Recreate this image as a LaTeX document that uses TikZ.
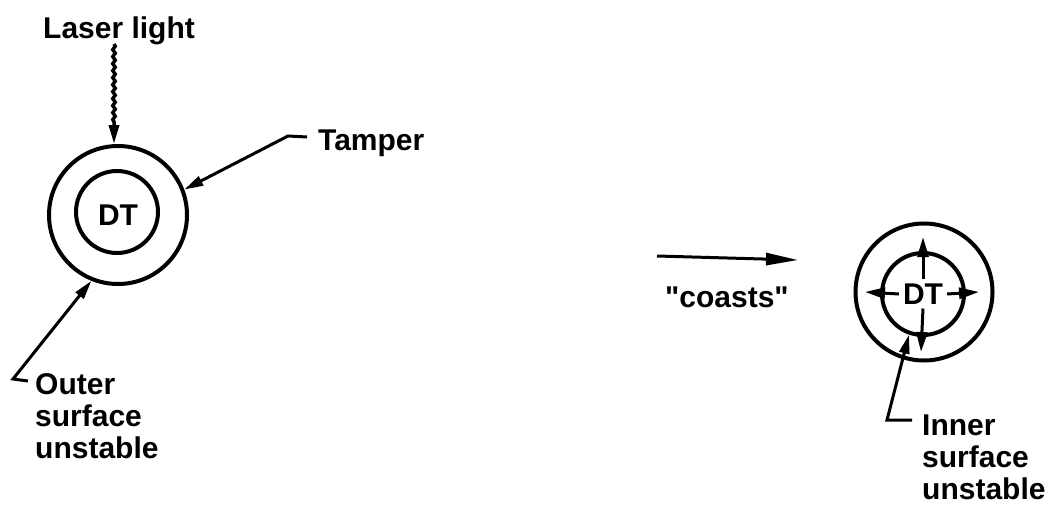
\documentclass[tikz,border=0pt]{standalone}
\usepackage{fontspec}
\setmainfont{Liberation Sans}[Ligatures=TeXOff]
\usetikzlibrary{arrows.meta,decorations.pathmorphing}
\begin{document}
\begin{tikzpicture}[x=1pt,y=-1pt,
  ring/.style={circle,draw,line width=4pt,inner sep=0pt,minimum size=#1},
  lbl/.style={font=\fontsize{30}{32}\selectfont\bfseries,inner sep=0pt},
  lead/.style={line width=3pt},
  tip/.style={-{Triangle[length=19pt,width=10pt]}},
  bigtip/.style={-{Triangle[length=20pt,width=11pt]}}
]
\useasboundingbox (0,0) rectangle (1055,514);

% left target
\node[ring=138pt] (outerL) at (118,215) {};
\node[ring=82pt] (innerL) at (117,212) {};
\node[lbl] (dtL) at (118,215) {DT};

% right target
\node[ring=137pt] (outerR) at (924,292) {};
\node[ring=82pt] (innerR) at (923,294) {};
\node[lbl,inner sep=4pt] (dtR) at (923,294) {DT};

% labels
\node[lbl,anchor=base west] (laser) at (43,38) {Laser light};
\node[lbl,anchor=base west] (tamper) at (318,150) {Tamper};
\node[lbl,anchor=north west,align=left] (outerTxt) at (35,373) {Outer\\surface\\unstable};
\node[lbl,anchor=base west] (coasts) at (665,307) {"coasts"};
\node[lbl,anchor=north west,align=left] (innerTxt) at (922,415) {Inner\\surface\\unstable};

% laser light
\coordinate (lz) at (114,44);
\draw[line width=3.5pt,tip,decorate,decoration={snake,amplitude=1.2pt,segment length=7pt,post length=22pt}]
  (lz) -- (lz |- outerL.north);

% tamper leader
\coordinate (tk) at (307,137);
\coordinate (tb) at (288,136);
\draw[lead,tip] (tk) -- (tb) -- (outerL.21);

% outer surface leader
\coordinate (ok) at (28,381);
\coordinate (ob) at (13,379);
\draw[lead,tip] (ok) -- (ob) -- (outerL.248);

% coasts arrow
\coordinate (ca) at (657,256);
\coordinate (cb) at (798,260);
\draw[line width=3pt,-{Triangle[length=32pt,width=12pt]}] (ca) -- (cb);

% inner surface leader
\coordinate (ik) at (912,420);
\coordinate (ib) at (887,420);
\draw[lead,tip] (ik) -- (ib) -- (innerR.251);

% expansion arrows
\coordinate (tN) at (923,237);
\coordinate (tW) at (865,292);
\coordinate (tE) at (979,292);
\coordinate (tS) at (921,352);
\draw[lead,bigtip] (dtR.north) -- (tN);
\draw[lead,bigtip] (dtR.west) -- (tW);
\draw[lead,bigtip] (dtR.east) -- (tE);
\draw[lead,bigtip] (dtR.south) -- (tS);
\end{tikzpicture}
\end{document}
